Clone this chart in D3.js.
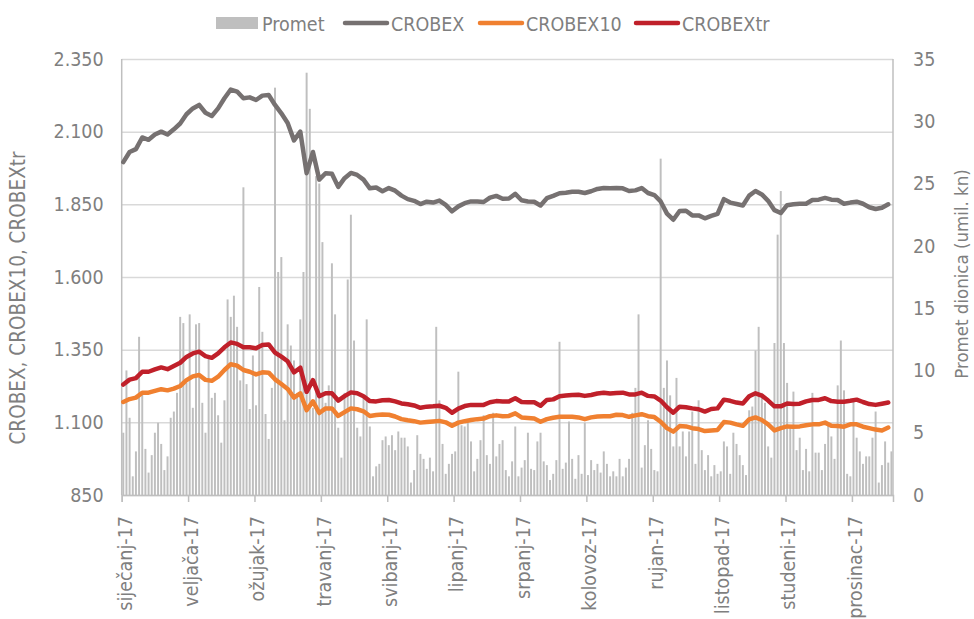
<!DOCTYPE html>
<html>
<head>
<meta charset="utf-8">
<script src="https://cdn.jsdelivr.net/npm/d3@7"></script>
<style>
  body { margin: 0; background: #fff; }
  svg text { font-family: "Liberation Sans Narrow", "DejaVu Sans Condensed", sans-serif; fill: #7f7f7f; }
</style>
</head>
<body>
<div id="chart"></div>
<script>
// month labels, one every 21 trading days
const monthLabels = ["siječanj-17", "veljača-17", "ožujak-17", "travanj-17", "svibanj-17", "lipanj-17",
  "srpanj-17", "kolovoz-17", "rujan-17", "listopad-17", "studeni-17", "prosinac-17"];
const labelStep = 21;

// daily turnover, mil. kn (right axis)
const promet = [5.0,10.0,6.2,1.5,3.5,12.7,8.3,3.7,1.8,3.2,
  5.0,5.8,4.1,2.0,3.1,6.2,6.7,8.2,14.3,13.8,
  9.0,14.5,7.0,13.7,13.8,7.4,5.0,11.0,7.8,8.2,
  6.4,4.2,7.6,15.7,14.3,16.0,13.5,9.2,24.7,8.9,
  6.9,11.2,7.2,16.7,13.1,6.5,4.5,8.6,32.7,17.9,
  19.1,6.0,13.7,12.0,10.8,8.2,14.1,17.9,33.9,31.0,
  7.0,25.6,25.0,20.3,7.4,8.8,18.6,14.5,5.4,3.0,
  8.2,17.3,22.5,12.4,5.4,4.7,7.9,14.1,5.5,1.5,
  2.3,2.5,4.4,4.7,4.0,4.8,3.6,5.1,4.6,4.6,
  3.9,1.0,2.0,4.8,3.3,2.9,2.1,3.0,1.9,13.5,
  7.6,4.1,1.7,2.5,3.3,3.5,9.9,5.6,5.5,6.0,
  4.3,1.9,2.9,4.4,6.4,3.2,2.5,6.6,3.1,4.1,
  4.4,2.0,1.5,2.7,5.5,1.5,2.2,2.8,5.0,2.1,
  2.0,4.3,5.0,2.7,2.4,1.2,1.7,2.8,12.3,2.1,
  2.6,5.9,2.9,1.3,3.2,1.7,5.8,1.6,2.8,2.0,
  2.5,1.8,3.5,2.5,1.5,1.9,1.5,2.9,1.5,2.2,
  2.9,6.6,8.6,14.5,2.2,4.0,6.0,3.7,2.0,1.9,
  27.0,8.6,10.8,8.0,3.9,9.4,3.9,5.1,3.1,5.1,
  6.7,2.5,7.6,3.6,2.0,3.2,1.5,2.4,1.7,1.9,
  4.3,3.9,1.7,5.0,4.1,3.2,2.4,1.6,6.8,7.1,
  11.6,13.5,8.2,7.4,3.9,3.0,12.2,20.9,24.4,12.2,
  9.0,5.5,8.3,3.6,4.6,2.0,3.7,1.9,8.2,3.4,
  3.4,2.0,4.1,5.8,4.7,2.9,8.8,12.4,8.4,1.7,
  1.5,7.6,4.6,3.5,2.5,3.1,3.1,4.6,6.7,1.0,
  2.4,4.3,2.6,3.5];

// index values, every 2nd trading day (left axis)
const lineStep = 2;
const crobex = [1995,2030,2040,2080,2072,2090,2100,2090,2108,2128,
  2160,2180,2192,2165,2154,2180,2215,2245,2238,2215,
  2218,2209,2224,2226,2192,2163,2130,2070,2100,1957,
  2030,1935,1957,1955,1910,1940,1958,1951,1935,1905,
  1908,1895,1906,1897,1880,1868,1862,1851,1859,1856,
  1863,1848,1826,1843,1854,1860,1860,1858,1873,1879,
  1869,1870,1886,1864,1860,1859,1846,1871,1879,1888,
  1890,1893,1893,1889,1895,1903,1906,1905,1906,1905,
  1896,1898,1906,1889,1882,1860,1818,1797,1827,1828,
  1812,1812,1802,1810,1817,1868,1856,1851,1846,1880,
  1896,1884,1862,1830,1820,1847,1850,1852,1852,1865,
  1866,1872,1866,1865,1852,1856,1859,1852,1840,1834,
  1838,1850];
const crobex10 = [1170,1180,1185,1202,1202,1208,1214,1210,1216,1225,
  1245,1258,1263,1246,1243,1257,1280,1300,1295,1280,
  1274,1265,1272,1271,1248,1232,1215,1185,1200,1142,
  1172,1132,1148,1148,1122,1135,1148,1145,1138,1122,
  1125,1127,1126,1120,1111,1107,1104,1099,1101,1103,
  1105,1100,1088,1099,1104,1108,1111,1113,1121,1124,
  1121,1122,1131,1117,1115,1113,1102,1111,1116,1119,
  1119,1119,1117,1111,1117,1120,1121,1121,1126,1125,
  1119,1124,1128,1121,1118,1102,1080,1068,1087,1086,
  1080,1077,1070,1072,1074,1101,1099,1093,1088,1110,
  1117,1108,1093,1072,1080,1086,1085,1086,1090,1093,
  1093,1099,1088,1087,1085,1093,1093,1085,1080,1075,
  1072,1082];
const crobexTr = [1230,1247,1252,1274,1274,1282,1289,1283,1294,1305,
  1325,1337,1343,1328,1322,1337,1358,1375,1370,1358,
  1358,1355,1366,1368,1340,1326,1310,1272,1288,1205,
  1245,1190,1200,1200,1175,1190,1203,1200,1190,1173,
  1172,1176,1177,1172,1165,1162,1158,1150,1154,1155,
  1157,1150,1133,1147,1156,1160,1160,1160,1169,1173,
  1172,1172,1183,1170,1169,1169,1157,1177,1179,1190,
  1192,1194,1195,1191,1194,1199,1202,1199,1201,1202,
  1196,1196,1202,1191,1189,1175,1152,1133,1154,1152,
  1148,1145,1137,1146,1148,1178,1174,1168,1165,1190,
  1200,1192,1175,1155,1155,1165,1163,1164,1172,1177,
  1177,1183,1173,1171,1171,1174,1178,1170,1163,1160,
  1164,1168];

const leftTicks = [850, 1100, 1350, 1600, 1850, 2100, 2350];
const rightTicks = [0, 5, 10, 15, 20, 25, 30, 35];

const width = 974, height = 619;
const plot = {left: 121.7, right: 893, top: 59, bottom: 495};

const svg = d3.select("#chart").append("svg")
  .attr("width", width)
  .attr("height", height);

const x = d3.scaleBand()
  .domain(d3.range(promet.length))
  .range([plot.left, plot.right])
  .paddingInner(0.38)
  .paddingOuter(0.19);
const xEdge = d3.scaleLinear().domain([0, promet.length]).range([plot.left, plot.right]);

const yL = d3.scaleLinear().domain([850, 2350]).range([plot.bottom, plot.top]);
const yR = d3.scaleLinear().domain([0, 35]).range([plot.bottom, plot.top]);

const hr = d3.formatLocale({decimal: ",", thousands: ".", grouping: [3], currency: ["", ""]});
const fmt = hr.format(",");

// gridlines
const grid = svg.append("g")
  .attr("transform", `translate(${plot.left},0)`)
  .call(d3.axisLeft(yL).tickValues(leftTicks).tickSize(-(plot.right - plot.left)).tickFormat(""));
grid.select(".domain").remove();
grid.selectAll("line").attr("stroke", "#d9d9d9").attr("stroke-width", 1.5);

// bars
svg.append("g").selectAll("rect")
  .data(promet)
  .enter()
  .append("rect")
  .attr("x", (d, i) => x(i))
  .attr("y", d => yR(d))
  .attr("width", x.bandwidth())
  .attr("height", d => yR(0) - yR(d))
  .attr("fill", "#bfbfbf");

// axis frame lines
svg.append("line").attr("x1", plot.left).attr("x2", plot.left).attr("y1", plot.top).attr("y2", plot.bottom)
  .attr("stroke", "#bfbfbf").attr("stroke-width", 1.5);
svg.append("line").attr("x1", plot.right).attr("x2", plot.right).attr("y1", plot.top).attr("y2", plot.bottom)
  .attr("stroke", "#bfbfbf").attr("stroke-width", 1.5);

// x axis with tick marks every labelStep days
const xAxis = svg.append("g")
  .attr("transform", `translate(0,${plot.bottom})`)
  .call(d3.axisBottom(xEdge).tickValues(monthLabels.map((m, k) => k * labelStep)).tickSize(7).tickFormat(""));
xAxis.select(".domain").attr("stroke", "#bfbfbf").attr("stroke-width", 1.5);
xAxis.selectAll("line").attr("stroke", "#bfbfbf").attr("stroke-width", 1.5);

svg.append("g").selectAll("text")
  .data(monthLabels)
  .enter()
  .append("text")
  .attr("transform", (d, k) => `translate(${xEdge(k * labelStep) + 3},516) rotate(-90)`)
  .attr("text-anchor", "end")
  .attr("dy", "0.35em")
  .style("font-size", "19.5px")
  .text(d => d);

// left axis labels
const axL = svg.append("g")
  .attr("transform", `translate(${plot.left},0)`)
  .call(d3.axisLeft(yL).tickValues(leftTicks).tickSize(0).tickPadding(18).tickFormat(fmt));
axL.select(".domain").remove();
axL.selectAll("text").style("font-size", "19.5px").attr("font-family", null);

// right axis labels
const axR = svg.append("g")
  .attr("transform", `translate(${plot.right},0)`)
  .call(d3.axisRight(yR).tickValues(rightTicks).tickSize(0).tickPadding(20));
axR.select(".domain").remove();
axR.selectAll("text").style("font-size", "19.5px").attr("font-family", null);

// lines
const series = [
  {name: "CROBEX", values: crobex, color: "#767171"},
  {name: "CROBEX10", values: crobex10, color: "#f08030"},
  {name: "CROBEXtr", values: crobexTr, color: "#c0202a"}
];
const line = d3.line()
  .x((d, i) => x(i * lineStep) + x.bandwidth() / 2)
  .y(d => yL(d));
svg.append("g").selectAll("path")
  .data(series)
  .enter()
  .append("path")
  .attr("d", d => line(d.values))
  .attr("fill", "none")
  .attr("stroke", d => d.color)
  .attr("stroke-width", 4.5)
  .attr("stroke-linejoin", "round")
  .attr("stroke-linecap", "round");

// axis titles
svg.append("text")
  .attr("transform", "translate(18,298) rotate(-90)")
  .attr("text-anchor", "middle")
  .attr("dy", "0.35em")
  .style("font-size", "20.5px")
  .text("CROBEX, CROBEX10, CROBEXtr");
svg.append("text")
  .attr("transform", "translate(962,274) rotate(-90)")
  .attr("text-anchor", "middle")
  .attr("dy", "0.35em")
  .style("font-size", "18.5px")
  .text("Promet dionica (umil. kn)");

// legend
const legend = svg.append("g");
legend.append("rect").attr("x", 216).attr("y", 17).attr("width", 42).attr("height", 12).attr("fill", "#bfbfbf");
legend.append("text").attr("x", 262).attr("y", 24).attr("dy", "0.35em")
  .style("font-size", "19.5px").text("Promet");
const legX = [345, 480, 636];
series.forEach((s, k) => {
  legend.append("line").attr("x1", legX[k]).attr("x2", legX[k] + 42).attr("y1", 23).attr("y2", 23)
    .attr("stroke", s.color).attr("stroke-width", 4.5).attr("stroke-linecap", "round");
  legend.append("text").attr("x", legX[k] + 46).attr("y", 24).attr("dy", "0.35em")
    .style("font-size", "19.5px").text(s.name);
});
</script>
</body>
</html>
